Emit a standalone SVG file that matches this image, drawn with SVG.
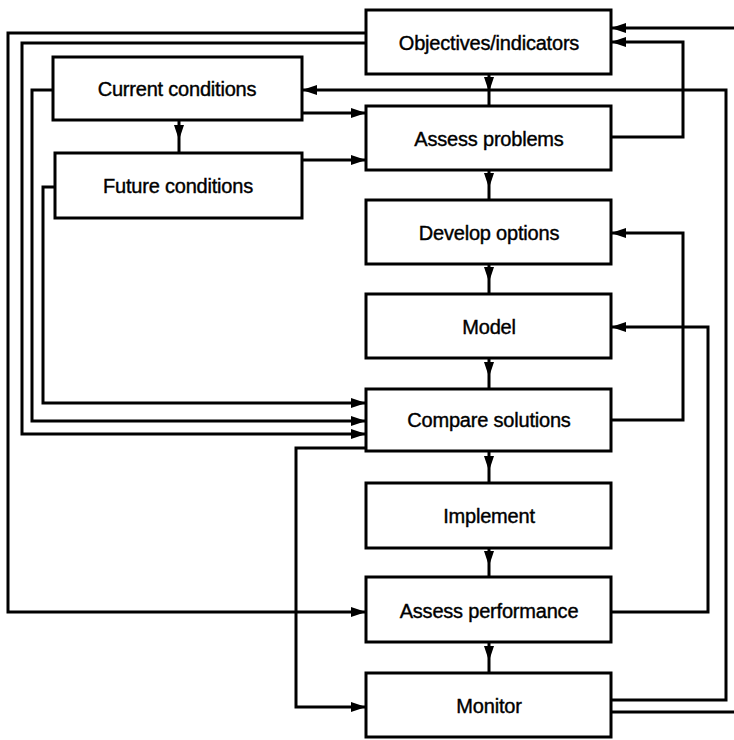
<svg xmlns="http://www.w3.org/2000/svg" width="734" height="740" viewBox="0 0 734 740">
<defs>
<style>
.box{fill:#fff;stroke:#000;stroke-width:3}
.lbl{font-family:"Liberation Sans",Arial,sans-serif;font-size:20px;fill:#000;stroke:#000;stroke-width:0.4;text-anchor:middle;dominant-baseline:central;letter-spacing:-0.2px}
.c{fill:none;stroke:#000;stroke-width:3;stroke-linejoin:miter}
</style>
<marker id="ah" markerUnits="userSpaceOnUse" viewBox="0 0 15 10" refX="15" refY="5" markerWidth="15" markerHeight="10" orient="auto">
<path d="M0,0 L15,5 L0,10 Z" fill="#000"/>
</marker>
</defs>
<rect width="734" height="740" fill="#fff"/>
<g id="connectors">
<path class="c" d="M489,74 L489,92 L489,106" marker-mid="url(#ah)"/>
<path class="c" d="M489,170 L489,188 L489,200" marker-mid="url(#ah)"/>
<path class="c" d="M489,264 L489,282 L489,294" marker-mid="url(#ah)"/>
<path class="c" d="M489,358 L489,377 L489,389" marker-mid="url(#ah)"/>
<path class="c" d="M489,451 L489,471 L489,483" marker-mid="url(#ah)"/>
<path class="c" d="M489,548 L489,566 L489,577" marker-mid="url(#ah)"/>
<path class="c" d="M489,642 L489,661 L489,673" marker-mid="url(#ah)"/>
<path class="c" d="M179,120 L179,140 L179,153" marker-mid="url(#ah)"/>
<path class="c" d="M366,33 H8 V612 H366" marker-end="url(#ah)"/>
<path class="c" d="M366,43 H22 V434 H366" marker-end="url(#ah)"/>
<path class="c" d="M53,90 H32 V421 H366" marker-end="url(#ah)"/>
<path class="c" d="M55,187 H43 V403 H366" marker-end="url(#ah)"/>
<path class="c" d="M366,448 H296 V707 H366" marker-end="url(#ah)"/>
<path class="c" d="M302,113 H366" marker-end="url(#ah)"/>
<path class="c" d="M302,160 H366" marker-end="url(#ah)"/>
<path class="c" d="M611,700 H726 V90 H302" marker-end="url(#ah)"/>
<path class="c" d="M611,712 H745 V28 H611" marker-end="url(#ah)"/>
<path class="c" d="M611,137 H683 V42 H611" marker-end="url(#ah)"/>
<path class="c" d="M611,420 H683 V233 H611" marker-end="url(#ah)"/>
<path class="c" d="M611,612 H708 V327 H611" marker-end="url(#ah)"/>
</g>
<g id="objectives"><rect class="box" x="366" y="10" width="245" height="64"/><text class="lbl" x="489" y="43">Objectives/indicators</text></g>
<g id="current"><rect class="box" x="53" y="57" width="249" height="63"/><text class="lbl" x="177" y="89">Current conditions</text></g>
<g id="future"><rect class="box" x="55" y="153" width="247" height="65"/><text class="lbl" x="178" y="186">Future conditions</text></g>
<g id="assess-problems"><rect class="box" x="366" y="106" width="245" height="64"/><text class="lbl" x="489" y="139">Assess problems</text></g>
<g id="develop-options"><rect class="box" x="366" y="200" width="245" height="64"/><text class="lbl" x="489" y="233">Develop options</text></g>
<g id="model"><rect class="box" x="366" y="294" width="245" height="64"/><text class="lbl" x="489" y="327">Model</text></g>
<g id="compare"><rect class="box" x="366" y="389" width="245" height="62"/><text class="lbl" x="489" y="420">Compare solutions</text></g>
<g id="implement"><rect class="box" x="366" y="483" width="245" height="65"/><text class="lbl" x="489" y="516">Implement</text></g>
<g id="assess-performance"><rect class="box" x="366" y="577" width="245" height="65"/><text class="lbl" x="489" y="611">Assess performance</text></g>
<g id="monitor"><rect class="box" x="366" y="673" width="245" height="64"/><text class="lbl" x="489" y="706">Monitor</text></g>
</svg>
